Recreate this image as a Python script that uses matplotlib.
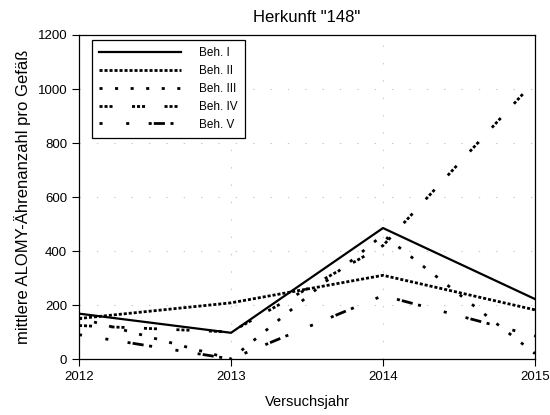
import matplotlib
matplotlib.use("Agg")
import matplotlib.pyplot as plt

plt.rcParams['font.family'] = ['Liberation Sans', 'DejaVu Sans']
plt.rcParams['lines.scale_dashes'] = False

years = [2012, 2013, 2014, 2015]
labels = ["Beh. I", "Beh. II", "Beh. III", "Beh. IV", "Beh. V"]
beh1 = [168, 97, 485, 222]
beh2 = [150, 208, 310, 182]
beh3 = [152, 0, 460, 20]
beh4 = [124, 100, 420, 1030]
beh5 = [90, 0, 235, 85]
yticks = [0, 200, 400, 600, 800, 1000, 1200]
xticks = [2012, 2013, 2014, 2015]

fig = plt.figure(figsize=(5.5, 4.15), dpi=100)
ax = fig.add_axes([79/550, 1-359/415, (535-79)/550, (359-35)/415])

# grid
for yv in yticks[1:-1]:
    ax.axhline(yv, color='#c8c8c8', lw=0.8, dashes=(1, 11.5), zorder=0)
for xv in xticks[1:-1]:
    ax.axvline(xv, color='#c8c8c8', lw=0.8, dashes=(1, 11.5), zorder=0)

lw = 1.6
dlw = 2.0
ax.plot(years, beh1, color='black', lw=lw, label=labels[0])
ax.plot(years, beh2, color='black', lw=dlw, dashes=(2.2, 1.4), label=labels[1])
ax.plot(years, beh3, color='black', lw=dlw, dashes=(2.2, 9.0), label=labels[2])
ax.plot(years, beh4, color='black', lw=dlw, dashes=(2.2, 1.4, 2.2, 1.4, 2.2, 14.0), label=labels[3])
ax.plot(years, beh5, color='black', lw=dlw, dashes=(2.2, 17.0, 2.2, 14.0, 2.2, 1.5, 8.0, 4.0), label=labels[4])

ax.set_xlim(2012, 2015)
ax.set_ylim(0, 1200)
ax.set_xticks(xticks)
ax.set_yticks(yticks)
ax.tick_params(direction='out', length=5, width=0.8, labelsize=9.5)
for s in ax.spines.values():
    s.set_linewidth(0.9)

ax.set_title('Herkunft "148"', fontsize=12, pad=9)
ax.set_xlabel('Versuchsjahr', fontsize=10.5, labelpad=9)
ax.set_ylabel('mittlere ALOMY-Ährenanzahl pro Gefäß', fontsize=12, labelpad=5)

leg = ax.legend(loc='upper left', bbox_to_anchor=(0.028, 0.985), fontsize=8.5,
                handlelength=7.0, handletextpad=1.5, labelspacing=0.5,
                fancybox=False, framealpha=1, borderpad=0.6, borderaxespad=0)
leg.get_frame().set_edgecolor('black')
leg.get_frame().set_linewidth(0.9)

fig.savefig('out.png', dpi=100)
